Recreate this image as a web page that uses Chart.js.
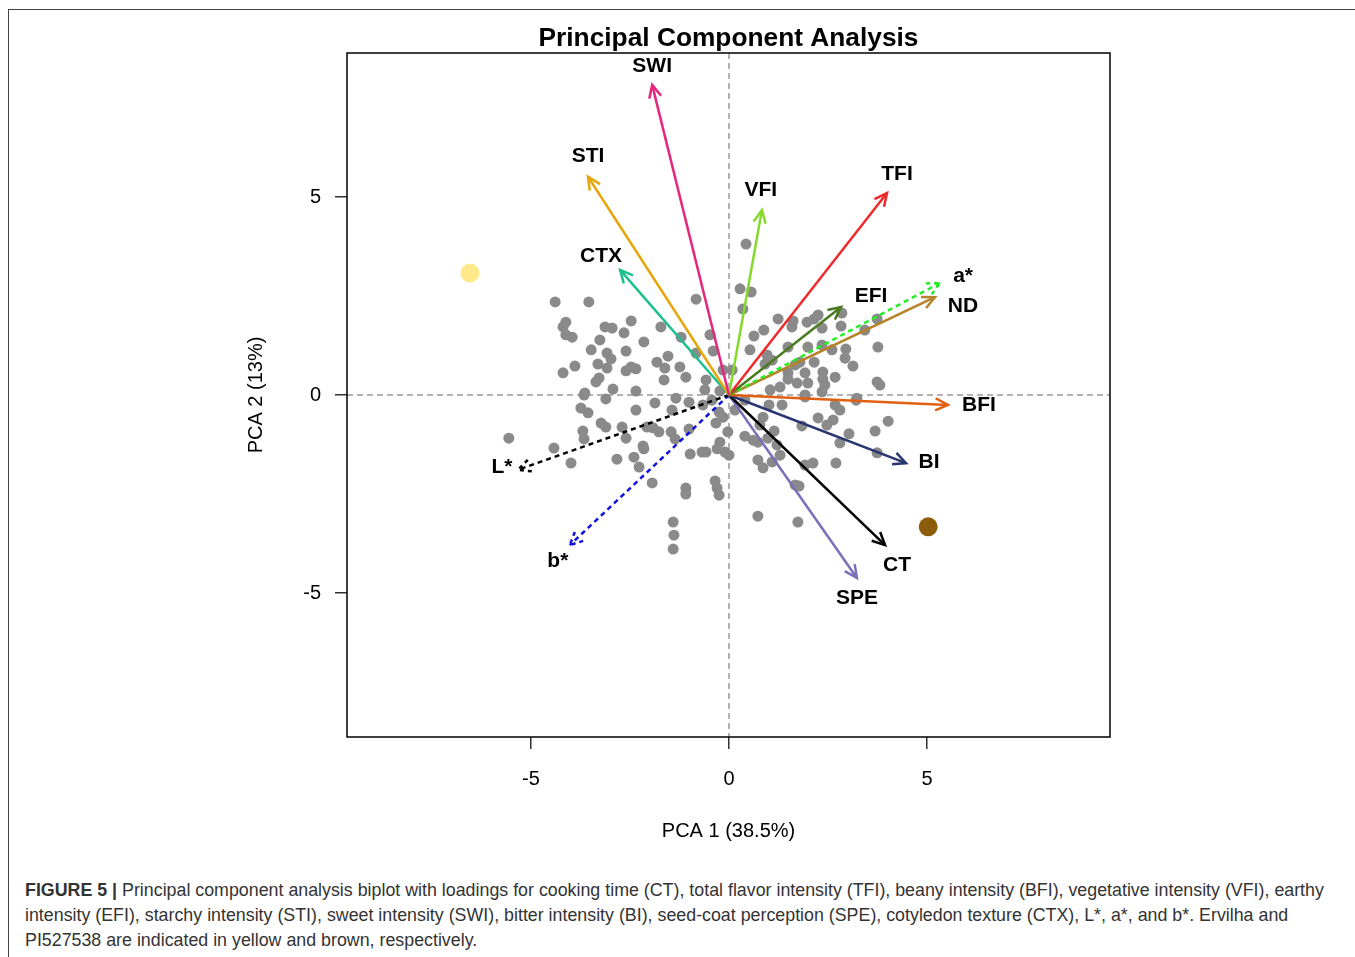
<!DOCTYPE html>
<html><head><meta charset="utf-8">
<script src="https://cdn.jsdelivr.net/npm/chart.js@4.4.1/dist/chart.umd.min.js"></script>
<style>
body{margin:0;background:#fff;width:1355px;height:957px;overflow:hidden;position:relative;font-family:"Liberation Sans",Arial,sans-serif}
#frame{position:absolute;left:8px;top:9px;right:0;bottom:0;border-left:1.5px solid #444;border-top:1.5px solid #444}
#c{position:absolute;left:0;top:0}
#cap{position:absolute;left:25px;top:878px;font-size:17.82px;line-height:25px;color:#333;white-space:nowrap}
</style></head><body>
<div id="frame"></div>
<canvas id="c" width="1355" height="860"></canvas>
<div id="cap"><b>FIGURE 5 |</b> Principal component analysis biplot with loadings for cooking time (CT), total flavor intensity (TFI), beany intensity (BFI), vegetative intensity (VFI), earthy<br>intensity (EFI), starchy intensity (STI), sweet intensity (SWI), bitter intensity (BI), seed-coat perception (SPE), cotyledon texture (CTX), L*, a*, and b*. Ervilha and<br>PI527538 are indicated in yellow and brown, respectively.</div>
<script>
// ---- data ----
const pointX = [-4.39,-3.54,-0.83,-4.12,-4.19,-4.12,-3.96,-3.13,-2.95,-2.47,-2.65,-1.72,-3.26,-2.15,-3.48,-3.08,-2.98,-2.60,-1.21,-0.48,-0.40,-0.83,-1.54,-1.82,-1.62,-1.24,-3.31,-3.89,-4.19,-3.08,-2.60,-2.47,-2.35,-3.28,-3.36,-1.64,-1.09,-0.58,-0.15,-2.93,-2.35,-3.64,-0.61,-0.23,
 -3.66,-3.11,-3.74,-3.56,-2.35,-1.87,-1.34,-1.01,-0.66,-1.44,-0.25,-0.15,-0.33,-3.23,-3.11,-2.70,-3.69,-3.66,-2.60,-2.07,-1.92,-1.77,-1.46,-1.36,-1.01,-4.42,-3.99,-2.83,-2.40,-2.17,-2.15,-2.27,-1.94,-0.98,-0.68,-0.58,-0.30,-0.23,-0.10,-1.09,-1.09,-0.35,-0.30,-0.25,-1.41,-1.39,-1.41,-5.56,
 0.43,0.28,0.56,0.35,1.24,0.88,0.63,1.62,1.59,1.97,2.15,2.25,2.35,2.85,2.83,3.74,3.43,0.53,1.49,0.96,1.09,0.91,1.99,2.35,2.60,2.95,2.93,3.13,3.76,2.15,1.79,1.49,1.49,1.72,1.92,1.99,2.37,2.37,2.42,2.68,1.29,1.92,2.35,3.23,3.74,3.81,0.08,1.67,1.04,
 1.01,1.34,2.68,2.80,3.21,1.92,2.25,2.63,2.47,1.84,0.86,0.78,0.40,0.61,0.73,0.98,1.14,1.21,2.80,3.03,3.69,4.02,3.74,1.29,0.73,0.86,1.09,1.92,2.12,2.70,1.67,1.77,0.73,1.74,-0.03,0.00,0.15,0.40,-0.43];
const pointY = [2.35,2.35,2.42,1.84,1.72,1.52,1.46,1.72,1.69,1.87,1.57,1.72,1.39,1.34,1.14,1.06,0.91,1.11,1.46,1.52,1.11,1.06,0.98,0.83,0.68,0.71,0.78,0.73,0.56,0.68,0.61,0.71,0.66,0.43,0.33,0.38,0.45,0.38,0.63,0.15,0.10,0.05,0.13,0.10,
 0.00,-0.10,-0.33,-0.45,-0.38,-0.20,-0.08,-0.18,-0.25,-0.38,-0.43,-0.56,-0.71,-0.71,-0.81,-0.81,-0.91,-1.11,-1.09,-0.81,-0.83,-0.93,-0.93,-1.11,-0.86,-1.34,-1.72,-1.62,-1.57,-1.29,-1.36,-1.82,-2.22,-1.49,-1.44,-1.44,-1.36,-1.19,-1.44,-2.35,-2.50,-2.17,-2.35,-2.53,-3.21,-3.54,-3.89,-1.09,
 3.81,2.68,2.60,2.17,1.92,1.64,1.49,1.87,1.72,1.84,1.92,2.02,1.69,2.07,1.74,1.92,1.64,1.14,1.21,1.01,0.88,0.78,1.21,1.26,1.14,1.16,0.93,0.73,1.21,0.83,0.83,0.56,0.40,0.30,0.56,0.30,0.58,0.40,0.25,0.45,0.20,0.00,0.08,-0.08,0.33,0.25,0.63,0.76,0.13,
 -0.25,-0.25,-0.25,-0.38,-0.13,-0.05,-0.58,-0.63,-0.76,-0.78,-0.56,-0.76,-1.04,-1.14,-1.19,-1.09,-0.91,-1.26,-1.21,-0.98,-0.91,-0.66,-1.46,-1.52,-1.64,-1.84,-1.69,-1.77,-1.72,-1.72,-2.27,-2.30,-3.06,-3.21,-0.93,-1.52,-0.38,-0.13,-0.13];

const loadingNames = ['SWI','STI','CTX','VFI','TFI','EFI','a*','ND','BFI','BI','CT','SPE','L*','b*'];
const loadingX = [-1.94,-3.56,-2.75,0.83,3.99,2.83,5.33,5.20,5.53,4.47,3.94,3.23,-5.33,-4.02];
const loadingY = [7.83,5.51,3.16,4.67,5.10,2.22,2.83,2.47,-0.25,-1.72,-3.79,-4.62,-1.89,-3.79];

const highlightNames = ['Ervilha','PI527538'];
const highlightX = [-6.54,5.03];
const highlightY = [3.08,-3.33];

const xTicks = [-5,0,5];
const yTicks = [-5,0,5];
const chartTitle = 'Principal Component Analysis';

// ---- styles ----
const loadingColors = ['#E6267E','#E6A70C','#1DBF8E','#86D82A','#EE2A2A','#4A7A1F','#22EE22','#B5832A','#E0600F','#283570','#000000','#7A6FB8','#000000','#1010E0'];
const loadingDashed = [false,false,false,false,false,false,true,false,false,false,false,false,true,true];
const labelOffsets = [[0,-19],[0,-21],[-19,-14],[-1,-20],[10,-19],[30,-11],[23,-7],[28,9],[31,0],[23,-1],[12,20],[0,20],[-16,-3],[-12,16]];
const highlightColors = ['#FDE98A','#8B5C0B'];
const FONT = '"Liberation Sans", Arial, sans-serif';

const datasets = [];
datasets.push({
  label:'samples', data: pointX.map((x,i)=>({x, y: pointY[i]})),
  backgroundColor:'#8a8a8a', borderWidth:0, pointRadius:5.5, order:10
});
loadingNames.forEach((n,i)=>{
  datasets.push({
    label:n, data:[{x:0,y:0},{x:loadingX[i],y:loadingY[i]}],
    showLine:true, borderColor:loadingColors[i], borderWidth:2.5,
    borderDash: loadingDashed[i] ? [5,4] : [], pointRadius:0, order:2
  });
});
highlightNames.forEach((n,i)=>{
  datasets.push({
    label:n, data:[{x:highlightX[i], y:highlightY[i]}],
    backgroundColor:highlightColors[i], borderWidth:0, pointRadius:9.5, order:1
  });
});

const decor = {
  id:'decor',
  beforeDatasetsDraw(chart){
    const {ctx, chartArea:a, scales:{x, y}} = chart;
    ctx.save();
    ctx.strokeStyle = '#9a9a9a'; ctx.lineWidth = 1.5; ctx.setLineDash([6,4]);
    const x0 = x.getPixelForValue(0), y0 = y.getPixelForValue(0);
    ctx.beginPath(); ctx.moveTo(x0, a.top); ctx.lineTo(x0, a.bottom); ctx.stroke();
    ctx.beginPath(); ctx.moveTo(a.left, y0); ctx.lineTo(a.right, y0); ctx.stroke();
    ctx.restore();
  },
  afterDatasetsDraw(chart){
    const {ctx, scales:{x, y}} = chart;
    const x0 = x.getPixelForValue(0), y0 = y.getPixelForValue(0);
    loadingNames.forEach((n,i)=>{
      const x1 = x.getPixelForValue(loadingX[i]), y1 = y.getPixelForValue(loadingY[i]);
      const ang = Math.atan2(y1-y0, x1-x0), L = 14, h = Math.PI/7;
      ctx.save();
      ctx.strokeStyle = loadingColors[i]; ctx.lineWidth = 2.5;
      ctx.setLineDash(loadingDashed[i] ? [4,4] : []);
      ctx.beginPath();
      ctx.moveTo(x1 - L*Math.cos(ang-h), y1 - L*Math.sin(ang-h));
      ctx.lineTo(x1, y1);
      ctx.lineTo(x1 - L*Math.cos(ang+h), y1 - L*Math.sin(ang+h));
      ctx.stroke();
      ctx.setLineDash([]);
      ctx.fillStyle = '#000'; ctx.font = 'bold 21px ' + FONT;
      ctx.textAlign = 'center'; ctx.textBaseline = 'middle';
      ctx.fillText(n, x1 + labelOffsets[i][0], y1 + labelOffsets[i][1]);
      ctx.restore();
    });
  },
  afterDraw(chart){
    const {ctx, chartArea:a} = chart;
    ctx.save(); ctx.strokeStyle = '#000'; ctx.lineWidth = 1.5;
    ctx.strokeRect(a.left, a.top, a.right-a.left, a.bottom-a.top);
    ctx.fillStyle = '#000'; ctx.font = 'bold 26.3px ' + FONT;
    ctx.textAlign = 'center'; ctx.textBaseline = 'middle';
    ctx.fillText(chartTitle, (a.left + a.right)/2, a.top - 14);
    ctx.restore();
  }
};

new Chart(document.getElementById('c'), {
  type:'scatter',
  data:{datasets},
  plugins:[decor],
  options:{
    responsive:false, animation:false,
    layout:{padding:{left:0, right:245, top:53, bottom:0}},
    plugins:{ legend:{display:false}, tooltip:{enabled:false}, title:{display:false} },
    scales:{
      x:{type:'linear', min:-9.646, max:9.621,
        afterBuildTicks:s=>{ s.ticks = xTicks.map(v=>({value:v})); },
        afterFit:s=>{ s.height = 123; },
        grid:{drawOnChartArea:false, drawTicks:true, tickLength:12, color:'#333', lineWidth:1.5},
        border:{display:false},
        ticks:{font:{size:20, family:FONT}, color:'#000', padding:18, callback:v=>String(v)},
        title:{display:true, text:'PCA 1 (38.5%)', color:'#000', font:{size:20, family:FONT}, padding:{top:0, bottom:17}}
      },
      y:{type:'linear', min:-8.636, max:8.636,
        afterBuildTicks:s=>{ s.ticks = yTicks.map(v=>({value:v})); },
        afterFit:s=>{ s.width = 347; },
        grid:{drawOnChartArea:false, drawTicks:true, tickLength:12, color:'#333', lineWidth:1.5},
        border:{display:false},
        ticks:{font:{size:20, family:FONT}, color:'#000', padding:14, callback:v=>String(v)},
        title:{display:true, text:'PCA 2 (13%)', color:'#000', font:{size:20, family:FONT}, padding:{top:244, bottom:0}}
      }
    }
  }
});
</script>
</body></html>
